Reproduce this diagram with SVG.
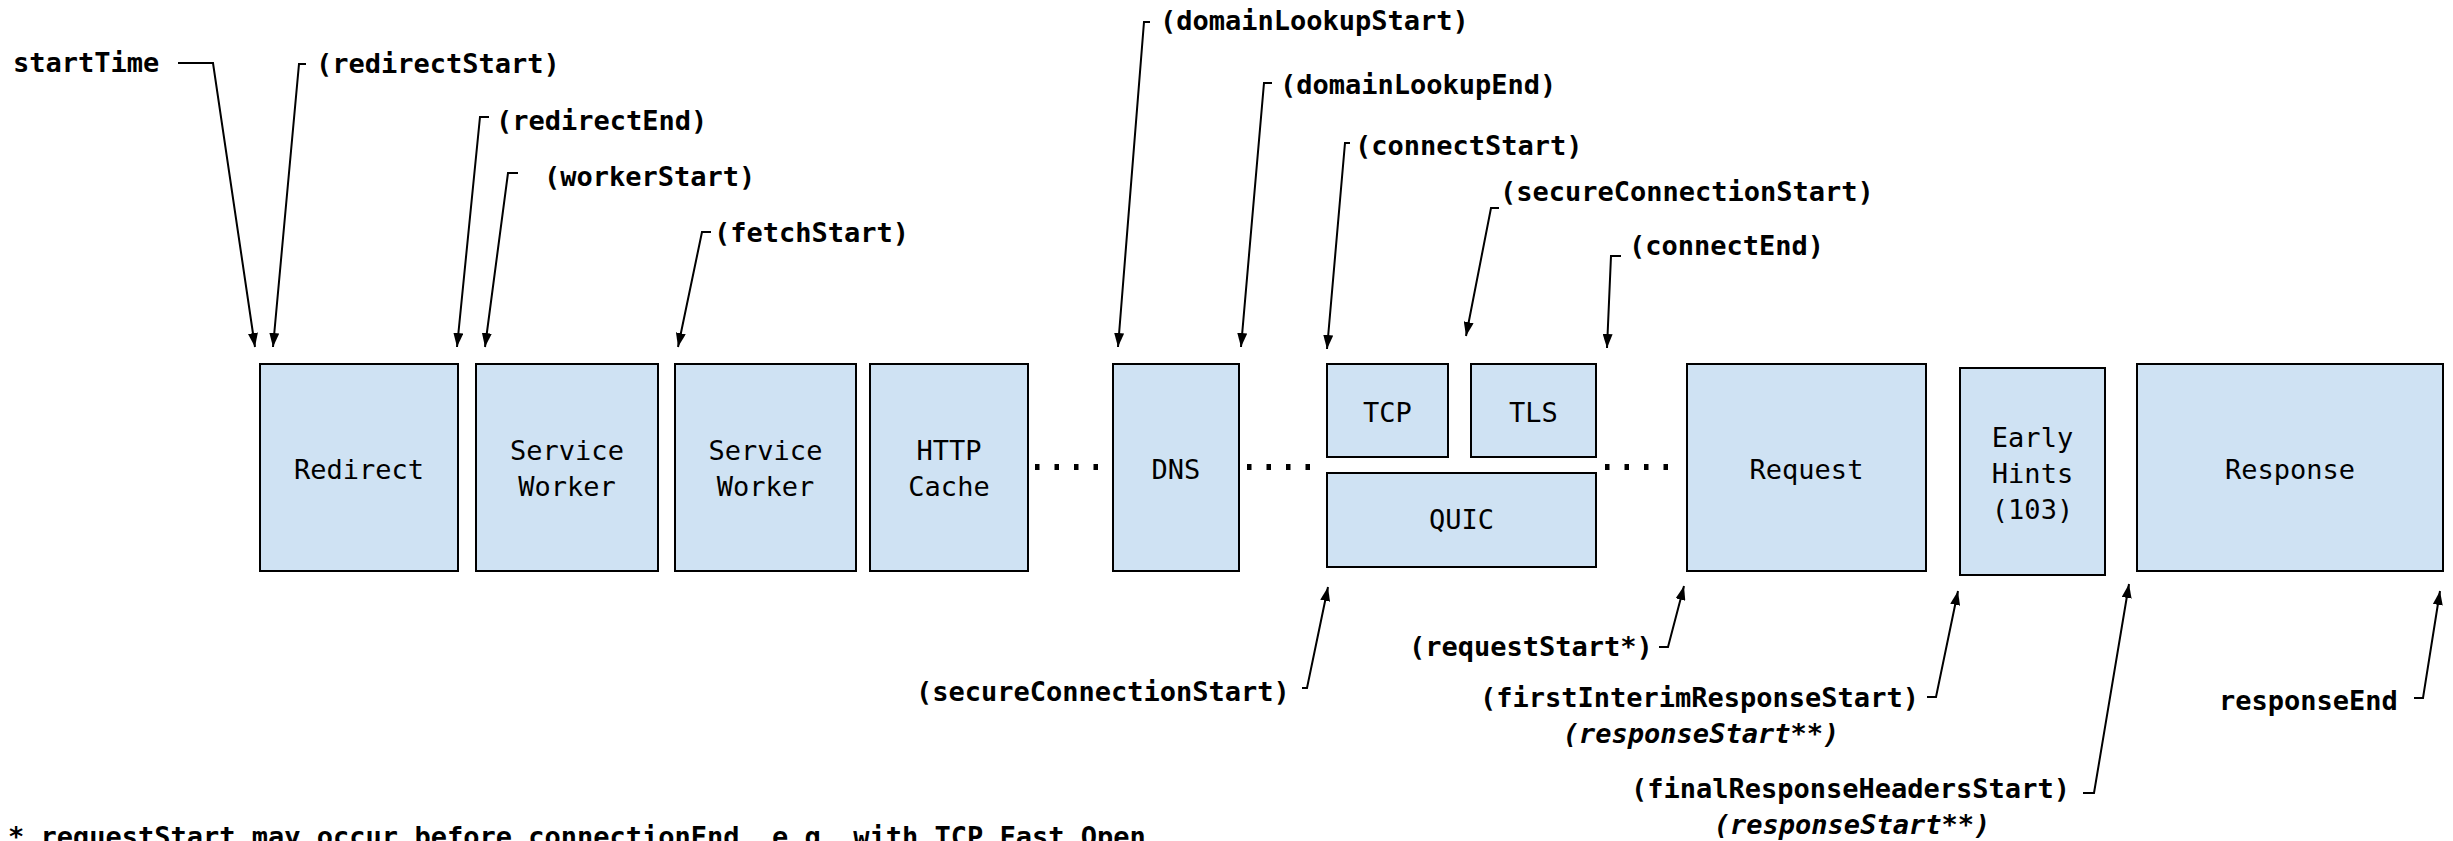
<svg xmlns="http://www.w3.org/2000/svg" width="2453" height="841" viewBox="0 0 2453 841">
<style>
  .box { fill: #cfe2f3; stroke: #000; stroke-width: 2; }
  .bt { font-family: "DejaVu Sans Mono", "Liberation Mono", monospace; font-size: 27px; fill: #000; text-anchor: middle; }
  .lb { font-family: "DejaVu Sans Mono", "Liberation Mono", monospace; font-size: 27px; font-weight: bold; fill: #000; }
  .it { font-style: italic; text-anchor: middle; }
  .con { fill: none; stroke: #000; stroke-width: 2; marker-end: url(#ah); }
  .dots { stroke: #000; stroke-width: 6; stroke-dasharray: 4.5 15; fill: none; }
</style>
<defs>
  <marker id="ah" viewBox="0 0 14 10" refX="14" refY="5" markerWidth="14" markerHeight="10" markerUnits="userSpaceOnUse" orient="auto">
    <path d="M0,0 L14,5 L0,10 z" fill="#000"/>
  </marker>
</defs>
<rect width="2453" height="841" fill="#fff"/>

<g id="redirect"><rect class="box" x="260" y="364" width="198" height="207"/><text class="bt" x="359" y="479">Redirect</text></g>
<g id="service-worker-1"><rect class="box" x="476" y="364" width="182" height="207"/><text class="bt" x="567" y="460">Service</text><text class="bt" x="567" y="496">Worker</text></g>
<g id="service-worker-2"><rect class="box" x="675" y="364" width="181" height="207"/><text class="bt" x="765.5" y="460">Service</text><text class="bt" x="765.5" y="496">Worker</text></g>
<g id="http-cache"><rect class="box" x="870" y="364" width="158" height="207"/><text class="bt" x="949" y="460">HTTP</text><text class="bt" x="949" y="496">Cache</text></g>
<g id="dns"><rect class="box" x="1113" y="364" width="126" height="207"/><text class="bt" x="1176" y="479">DNS</text></g>
<g id="tcp"><rect class="box" x="1327" y="364" width="121" height="93"/><text class="bt" x="1387.5" y="422">TCP</text></g>
<g id="tls"><rect class="box" x="1471" y="364" width="125" height="93"/><text class="bt" x="1533.5" y="422">TLS</text></g>
<g id="quic"><rect class="box" x="1327" y="473" width="269" height="94"/><text class="bt" x="1461.5" y="529">QUIC</text></g>
<g id="request"><rect class="box" x="1687" y="364" width="239" height="207"/><text class="bt" x="1806.5" y="479">Request</text></g>
<g id="early-hints"><rect class="box" x="1960" y="368" width="145" height="207"/><text class="bt" x="2032.5" y="447">Early</text><text class="bt" x="2032.5" y="483">Hints</text><text class="bt" x="2032.5" y="519">(103)</text></g>
<g id="response"><rect class="box" x="2137" y="364" width="306" height="207"/><text class="bt" x="2290" y="479">Response</text></g>

<g id="labels">
  <text class="lb" x="13" y="72">startTime</text>
  <text class="lb" x="316" y="73">(redirectStart)</text>
  <text class="lb" x="496" y="130">(redirectEnd)</text>
  <text class="lb" x="544" y="186">(workerStart)</text>
  <text class="lb" x="714" y="242">(fetchStart)</text>
  <text class="lb" x="1160" y="30">(domainLookupStart)</text>
  <text class="lb" x="1280" y="94">(domainLookupEnd)</text>
  <text class="lb" x="1355" y="155">(connectStart)</text>
  <text class="lb" x="1500" y="201">(secureConnectionStart)</text>
  <text class="lb" x="1629" y="255">(connectEnd)</text>
  <text class="lb" x="916" y="701">(secureConnectionStart)</text>
  <text class="lb" x="1409" y="656">(requestStart*)</text>
  <text class="lb" x="1480" y="707">(firstInterimResponseStart)</text>
  <text class="lb it" x="1701" y="743">(responseStart**)</text>
  <text class="lb" x="1631" y="798">(finalResponseHeadersStart)</text>
  <text class="lb it" x="1852" y="834">(responseStart**)</text>
  <text class="lb" x="2219" y="710">responseEnd</text>
  <text class="lb" x="8" y="846">*  requestStart may occur before connectionEnd, e.g. with TCP Fast Open</text>
</g>

<g id="connectors">
  <path class="con" d="M178,63 H213 L255,347"/>
  <path class="con" d="M306,64 H299 L273,347"/>
  <path class="con" d="M489,117 H480 L457,347"/>
  <path class="con" d="M518,173 H508 L485,347"/>
  <path class="con" d="M711,232 H702 L678,347"/>
  <path class="con" d="M1150,22 H1144 L1118,347"/>
  <path class="con" d="M1272,83 H1264 L1241,347"/>
  <path class="con" d="M1350,143 H1345 L1327,349"/>
  <path class="con" d="M1499,208 H1491 L1466,336"/>
  <path class="con" d="M1621,256 H1611 L1607,348"/>
  <path class="con" d="M1302,688 H1307 L1328,587"/>
  <path class="con" d="M1659,647 H1668 L1684,586"/>
  <path class="con" d="M1927,697 H1936 L1958,591"/>
  <path class="con" d="M2083,793 H2094 L2129,584"/>
  <path class="con" d="M2414,698 H2423 L2440,591"/>
  <line class="dots" x1="1035" y1="467" x2="1099" y2="467"/>
  <line class="dots" x1="1247" y1="467" x2="1311" y2="467"/>
  <line class="dots" x1="1605" y1="467" x2="1669" y2="467"/>
</g>
</svg>
